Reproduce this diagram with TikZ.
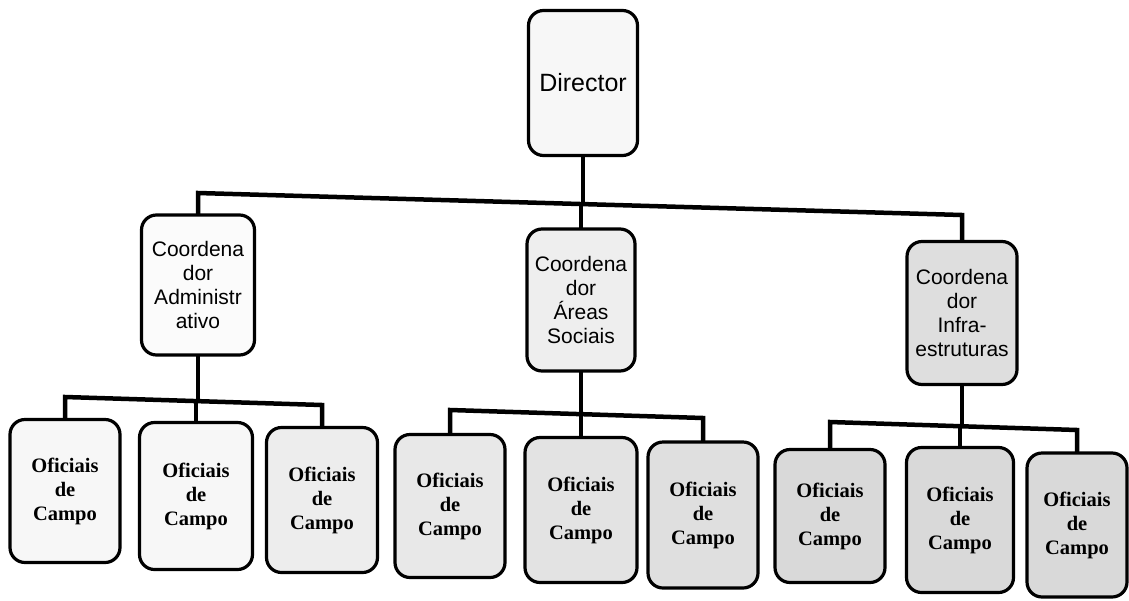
\documentclass[tikz,border=0pt]{standalone}
\usepackage{fontspec}
\setmainfont{Liberation Serif}
\newfontfamily\boxsans{Liberation Sans}
\newfontfamily\boxserif{Liberation Serif}
\begin{document}
\begin{tikzpicture}[x=1pt,y=-1pt,
  box/.style={draw=black, line width=3.2pt, rounded corners=15pt, inner sep=0pt, align=center},
  topbox/.style={box, font=\boxsans\fontsize{25}{28}\selectfont},
  coordbox/.style={box, font=\boxsans\fontsize{21}{24}\selectfont},
  offbox/.style={box, font=\boxserif\bfseries\fontsize{20.5}{24}\selectfont},
  conn/.style={line width=4.5pt, line cap=rect}]
\useasboundingbox (0,0) rectangle (1129,600);
\fill[white] (0,0) rectangle (1129,600);

% nodes
\node[topbox, fill=gray!6, minimum width=109pt, minimum height=145pt] (dir) at (583,83) {Director};
\node[coordbox, fill=gray!3, minimum width=113pt, minimum height=140pt] (ca) at (198,285) {Coordena\\dor\\Administr\\ativo};
\node[coordbox, fill=gray!13, minimum width=108pt, minimum height=142pt] (cs) at (581,300) {Coordena\\dor\\Áreas\\Sociais};
\node[coordbox, fill=gray!26, minimum width=110pt, minimum height=143pt] (ci) at (962,313) {Coordena\\dor\\Infra-\\estruturas};

\node[offbox, fill=gray!6, minimum width=110pt, minimum height=143pt] (o11) at (65,491) {Oficiais\\de\\Campo};
\node[offbox, fill=gray!6, minimum width=113pt, minimum height=147pt] (o12) at (196,496) {Oficiais\\de\\Campo};
\node[offbox, fill=gray!14, minimum width=111pt, minimum height=145pt] (o13) at (322,500) {Oficiais\\de\\Campo};

\node[offbox, fill=gray!18, minimum width=110pt, minimum height=143pt] (o21) at (450,506) {Oficiais\\de\\Campo};
\node[offbox, fill=gray!22, minimum width=112pt, minimum height=145pt] (o22) at (581,510) {Oficiais\\de\\Campo};
\node[offbox, fill=gray!25, minimum width=110pt, minimum height=146pt] (o23) at (703,515) {Oficiais\\de\\Campo};

\node[offbox, fill=gray!30, minimum width=110pt, minimum height=133pt] (o31) at (830,516) {Oficiais\\de\\Campo};
\node[offbox, fill=gray!30, minimum width=107pt, minimum height=145pt] (o32) at (960,520) {Oficiais\\de\\Campo};
\node[offbox, fill=gray!30, minimum width=100pt, minimum height=144pt] (o33) at (1077,525) {Oficiais\\de\\Campo};

% bar coordinates
\coordinate (tL) at (198,193);
\coordinate (tR) at (962,215);
\coordinate (tD) at (583,204);
\coordinate (tS) at (581,204);

\coordinate (aL) at (65,397);
\coordinate (aR) at (322,405);
\coordinate (aJ) at (196,401);
\coordinate (aC) at (198,401);

\coordinate (sL) at (450,410);
\coordinate (sR) at (703,418);
\coordinate (sJ) at (581,414);

\coordinate (iL) at (830,422);
\coordinate (iR) at (1077,430);
\coordinate (iJ) at (960,426);
\coordinate (iC) at (962,426);

% connectors
\draw[conn] (dir.south) -- (tD);
\draw[conn] (ca.north) -- (tL) -- (tR) -- (ci.north);
\draw[conn] (cs.north) -- (tS);

\draw[conn] (ca.south) -- (aC);
\draw[conn] (o11.north) -- (aL) -- (aR) -- (o13.north);
\draw[conn] (o12.north) -- (aJ);

\draw[conn] (cs.south) -- (sJ);
\draw[conn] (o21.north) -- (sL) -- (sR) -- (o23.north);
\draw[conn] (o22.north) -- (sJ);

\draw[conn] (ci.south) -- (iC);
\draw[conn] (o31.north) -- (iL) -- (iR) -- (o33.north);
\draw[conn] (o32.north) -- (iJ);
\end{tikzpicture}
\end{document}
